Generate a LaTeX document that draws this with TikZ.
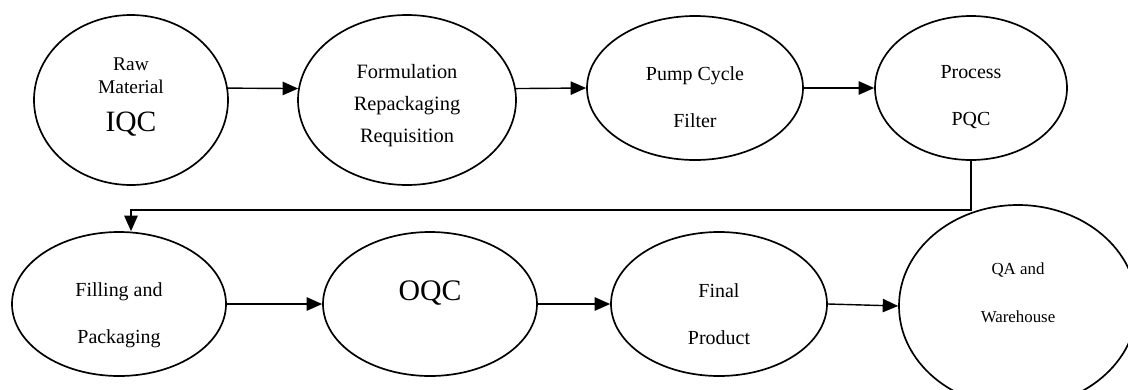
\documentclass[tikz,border=0pt]{standalone}
\usepackage{fontspec}
\setmainfont{Liberation Serif}
\usetikzlibrary{arrows.meta,positioning,shapes}

\begin{document}
\begin{tikzpicture}[->,>={Triangle[length=11pt,width=9.5pt]},line width=1pt]
\tikzstyle{stage}=[ellipse,draw,line width=1.2pt,inner sep=0pt,minimum width=5.4cm,minimum height=3.6cm]
\tikzstyle{txt}=[align=center,font=\fontsize{14.2}{33.4}\selectfont]

\useasboundingbox (0,0) rectangle (28.2,-9.725);
\clip (0,0) rectangle (28.2,-9.725);

% top row
\node[stage] (E1) at (3.275,-2.5) [minimum width=4.85cm,minimum height=4.25cm,
  label={[txt,font=\fontsize{13.8}{16.4}\selectfont,yshift=0.08cm]center:{Raw\\Material\\[10.3pt]{\fontsize{21}{24}\selectfont IQC}}}] {};
\node[stage] (E2) [right of=E1,node distance=6.9cm,minimum width=5.45cm,minimum height=4.25cm,
  label={[txt,font=\fontsize{14.5}{22.8}\selectfont,yshift=-0.15cm]center:{Formulation\\Repackaging\\Requisition}}] {};
\node[stage] (E3) [right of=E2,node distance=7.2cm,yshift=0.3cm,
  label={[txt,yshift=-0.22cm]center:{Pump Cycle\\Filter}}] {};
\node[stage] (E4) [right of=E3,node distance=6.9cm,minimum width=4.8cm,
  label={[txt,yshift=-0.22cm]center:{Process\\PQC}}] {};

% bottom row
\node[stage] (E5) [below of=E1,node distance=5.1cm,xshift=-0.3cm,minimum width=5.35cm,
  label={[txt,yshift=-0.27cm]center:{Filling and\\Packaging}}] {};
\node[stage] (E6) [right of=E5,node distance=7.775cm,minimum width=5.35cm,
  label={[txt,font=\fontsize{21.2}{24}\selectfont,yshift=0.28cm]center:OQC}] {};
\node[stage] (E7) [right of=E6,node distance=7.225cm,
  label={[txt,yshift=-0.25cm]center:{Final\\Product}}] {};
\node[stage] (E8) [right of=E7,node distance=7.475cm,yshift=-0.05cm,minimum width=5.95cm,minimum height=5.05cm,
  label={[txt,font=\fontsize{12}{34}\selectfont,yshift=0.33cm]center:{QA and\\Warehouse}}] {};

\path
(E1.7) edge (E2.174)
(E2.6) edge (E3.west)
(E3.east) edge (E4.west)
(E5.east) edge (E6.west)
(E6.east) edge (E7.west)
(E7.east) edge (E8.west)
;
\draw (E4.south) -- ++(0,-1.225) -| ([xshift=0.3cm]E5.north);
\end{tikzpicture}
\end{document}
